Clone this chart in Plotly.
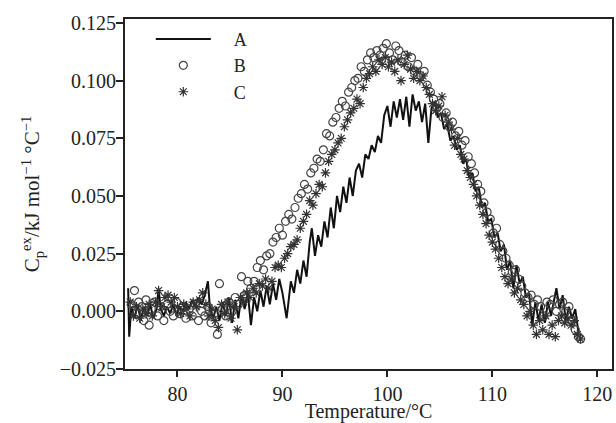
import plotly.graph_objects as go

# Curve A (line)
a_x = [75.3, 75.4, 75.6, 75.9, 76.2, 76.5, 76.8, 77.1, 77.4, 77.7, 78.0, 78.2, 78.4, 78.7, 79.0, 79.3, 79.6, 79.9,
       80.2, 80.5, 80.8, 81.1, 81.4, 81.7, 82.0, 82.3, 82.6, 82.9, 83.1, 83.4, 83.7, 84.0, 84.3, 84.6, 84.9, 85.2,
       85.5, 85.8, 86.1, 86.4, 86.7, 87.0, 87.3, 87.6, 87.9, 88.2, 88.5, 88.8, 89.1, 89.4, 89.7, 90.0, 90.4, 90.8,
       91.1, 91.4, 91.7, 92.0, 92.3, 92.6, 92.8, 93.1, 93.4, 93.7, 94.0, 94.3, 94.6, 94.9, 95.2, 95.5, 95.8, 96.1,
       96.4, 96.7, 97.0, 97.3, 97.6, 97.9, 98.2, 98.5, 98.8, 99.1, 99.4, 99.7, 100.0, 100.3, 100.6, 100.9, 101.2,
       101.5, 101.8, 102.1, 102.4, 102.7, 103.0, 103.3, 103.6, 103.9, 104.2, 104.5, 104.8, 105.1, 105.4, 105.7,
       106.0, 106.3, 106.6, 106.9, 107.2, 107.5, 107.8, 108.1, 108.4, 108.7, 109.0, 109.3, 109.6, 109.9, 110.2,
       110.5, 110.8, 111.1, 111.4, 111.7, 112.0, 112.3, 112.6, 112.9, 113.2, 113.5, 113.8, 114.1, 114.4, 114.7,
       115.0, 115.3, 115.6, 115.9, 116.1, 116.4, 116.7, 117.0, 117.3, 117.6, 117.9, 118.2]
a_y = [0.010, -0.011, 0.002, -0.003, 0.003, -0.004, 0.002, -0.002, 0.003, -0.003, 0.001, 0.010, 0.001, -0.002,
       0.002, -0.001, 0.003, -0.002, 0.002, 0.000, 0.004, 0.001, 0.005, 0.002, 0.006, 0.003, 0.007, 0.013, 0.001,
       -0.003, 0.002, -0.004, 0.004, -0.002, 0.006, -0.005, 0.005, -0.003, 0.007, 0.001, 0.008, -0.006, 0.006,
       0.000, 0.009, 0.002, 0.011, 0.003, 0.012, 0.005, 0.014, 0.008, -0.003, 0.013, 0.008, 0.018, 0.012, 0.022,
       0.015, 0.030, 0.036, 0.024, 0.033, 0.028, 0.039, 0.032, 0.045, 0.036, 0.050, 0.043, 0.054, 0.047, 0.058,
       0.050, 0.061, 0.064, 0.058, 0.068, 0.066, 0.072, 0.069, 0.076, 0.073, 0.085, 0.089, 0.080, 0.091, 0.084,
       0.092, 0.083, 0.093, 0.080, 0.094, 0.087, 0.091, 0.082, 0.090, 0.073, 0.088, 0.091, 0.084, 0.086, 0.079,
       0.081, 0.074, 0.076, 0.070, 0.072, 0.064, 0.066, 0.058, 0.060, 0.052, 0.054, 0.045, 0.047, 0.039, 0.040,
       0.032, 0.034, 0.026, 0.029, 0.018, 0.022, 0.010, 0.020, 0.012, 0.015, 0.006, 0.008, -0.006, 0.004, -0.004,
       0.003, -0.005, 0.004, -0.002, 0.006, 0.010, 0.001, 0.007, -0.004, 0.002, -0.003, 0.001, -0.009]

# Curve B (open circles)
b_x = [75.6, 75.9, 76.1, 76.3, 76.6, 76.8, 77.0, 77.3, 77.5, 77.8, 78.1, 78.4, 78.7, 79.0, 79.3, 79.6, 79.9, 80.2,
       80.5, 80.8, 81.1, 81.4, 81.7, 82.0, 82.3, 82.6, 82.9, 83.2, 83.5, 83.8, 84.0, 84.3, 84.6, 84.9, 85.2, 85.5,
       85.8, 86.1, 86.4, 86.7, 87.0, 87.3, 87.6, 87.9, 88.2, 88.5, 88.8, 89.1, 89.4, 89.7, 90.0, 90.3, 90.6, 90.9,
       91.2, 91.5, 91.8, 92.1, 92.4, 92.7, 93.0, 93.3, 93.6, 93.9, 94.2, 94.5, 94.8, 95.1, 95.4, 95.7, 96.0, 96.3,
       96.6, 96.9, 97.2, 97.5, 97.8, 98.1, 98.4, 98.7, 99.0, 99.3, 99.6, 99.9, 100.2, 100.5, 100.8, 101.1, 101.4,
       101.7, 102.0, 102.3, 102.6, 102.9, 103.2, 103.5, 103.8, 104.1, 104.4, 104.7, 105.0, 105.3, 105.6, 105.9,
       106.2, 106.5, 106.8, 107.1, 107.4, 107.7, 108.0, 108.3, 108.6, 108.9, 109.2, 109.5, 109.8, 110.1, 110.4,
       110.7, 111.0, 111.3, 111.6, 111.9, 112.2, 112.5, 112.8, 113.1, 113.4, 113.7, 114.0, 114.3, 114.6, 114.9,
       115.2, 115.5, 115.8, 116.1, 116.4, 116.7, 117.0, 117.3, 117.6, 117.9, 118.2, 118.4]
b_y = [0.003, 0.009, -0.001, 0.004, 0.002, -0.004, 0.005, -0.006, 0.001, 0.004, -0.002, 0.002, -0.004, 0.003,
       0.000, -0.002, 0.004, -0.001, 0.002, -0.003, 0.001, -0.002, 0.003, -0.004, 0.000, -0.002, 0.002, -0.005,
       -0.001, -0.010, 0.012, 0.001, -0.002, 0.004, 0.000, 0.006, 0.003, 0.015, 0.007, 0.013, 0.010, 0.013, 0.019,
       0.022, 0.018, 0.024, 0.025, 0.030, 0.032, 0.036, 0.033, 0.039, 0.042, 0.040, 0.045, 0.049, 0.051, 0.055,
       0.053, 0.060, 0.062, 0.066, 0.065, 0.070, 0.077, 0.076, 0.082, 0.084, 0.088, 0.091, 0.089, 0.095, 0.097,
       0.100, 0.101, 0.106, 0.104, 0.109, 0.112, 0.110, 0.113, 0.111, 0.114, 0.116, 0.112, 0.109, 0.115, 0.113,
       0.108, 0.111, 0.106, 0.110, 0.104, 0.107, 0.102, 0.104, 0.098, 0.095, 0.092, 0.088, 0.090, 0.084, 0.086,
       0.080, 0.082, 0.076, 0.078, 0.072, 0.074, 0.067, 0.064, 0.060, 0.055, 0.052, 0.047, 0.043, 0.040, 0.034,
       0.036, 0.029, 0.026, 0.023, 0.020, 0.017, 0.018, 0.014, 0.011, 0.008, 0.006, 0.007, 0.003, 0.005, 0.002,
       -0.002, 0.004, 0.003, 0.005, 0.000, 0.003, 0.004, 0.000, 0.002, -0.004, -0.008, -0.011, -0.012]

# Curve C (asterisks)
c_x = [75.5, 75.8, 76.1, 76.4, 76.7, 77.0, 77.3, 77.6, 77.9, 78.2, 78.5, 78.8, 79.1, 79.4, 79.7, 80.0, 80.3, 80.6,
       80.9, 81.2, 81.5, 81.8, 82.1, 82.4, 82.7, 83.0, 83.3, 83.6, 83.9, 84.2, 84.5, 84.8, 85.1, 85.4, 85.7, 86.0,
       86.3, 86.6, 86.9, 87.2, 87.5, 87.8, 88.1, 88.4, 88.7, 89.0, 89.3, 89.6, 89.9, 90.2, 90.5, 90.8, 91.1, 91.4,
       91.7, 92.0, 92.3, 92.6, 92.9, 93.2, 93.5, 93.8, 94.1, 94.4, 94.7, 95.0, 95.3, 95.6, 95.9, 96.2, 96.5, 96.8,
       97.1, 97.4, 97.7, 98.0, 98.3, 98.6, 98.9, 99.2, 99.5, 99.8, 100.1, 100.4, 100.7, 101.0, 101.3, 101.6, 101.9,
       102.2, 102.5, 102.8, 103.1, 103.4, 103.7, 104.0, 104.3, 104.6, 104.9, 105.2, 105.5, 105.8, 106.1, 106.4,
       106.7, 107.0, 107.3, 107.6, 107.9, 108.2, 108.5, 108.8, 109.1, 109.4, 109.7, 110.0, 110.3, 110.6, 110.9,
       111.2, 111.5, 111.8, 112.1, 112.4, 112.7, 113.0, 113.3, 113.6, 113.9, 114.2, 114.5, 114.8, 115.1, 115.4,
       115.7, 116.0, 116.3, 116.6, 116.9, 117.2, 117.5, 117.8, 118.1, 118.4]
c_y = [0.004, -0.002, 0.002, -0.003, 0.001, -0.001, 0.003, -0.002, 0.004, 0.009, 0.002, 0.006, 0.007, 0.004,
       0.006, 0.002, -0.001, 0.003, 0.001, -0.002, 0.004, 0.002, 0.005, 0.008, 0.003, -0.002, 0.001, -0.004,
       -0.007, 0.003, -0.001, 0.004, -0.003, 0.002, -0.008, 0.006, 0.004, 0.008, 0.006, 0.010, 0.008, 0.012,
       0.011, 0.014, 0.010, 0.013, 0.019, 0.020, 0.019, 0.023, 0.025, 0.028, 0.029, 0.031, 0.036, 0.039, 0.042,
       0.048, 0.046, 0.051, 0.055, 0.054, 0.060, 0.065, 0.068, 0.070, 0.073, 0.075, 0.080, 0.083, 0.086, 0.088,
       0.092, 0.090, 0.097, 0.101, 0.103, 0.106, 0.104, 0.109, 0.107, 0.110, 0.106, 0.108, 0.104, 0.109, 0.100,
       0.107, 0.111, 0.105, 0.101, 0.104, 0.100, 0.102, 0.097, 0.094, 0.090, 0.087, 0.089, 0.093, 0.085, 0.082,
       0.079, 0.072, 0.075, 0.068, 0.066, 0.061, 0.058, 0.055, 0.050, 0.046, 0.042, 0.038, 0.033, 0.030, 0.027,
       0.023, 0.019, 0.015, 0.012, 0.014, 0.008, 0.010, 0.005, 0.003, -0.002, 0.000, -0.006, -0.010, -0.004,
       -0.008, -0.002, -0.010, -0.006, -0.011, -0.004, -0.002, -0.005, -0.003, -0.006, -0.004, -0.010, -0.012]

x_ticks = [80, 90, 100, 110, 120]
y_ticks = [-0.025, 0.000, 0.025, 0.050, 0.075, 0.100, 0.125]
names = ["A", "B", "C"]

FONT = "Liberation Serif"
PAD = "\u2002\u2002"

fig = go.Figure()
fig.add_trace(go.Scatter(x=a_x, y=a_y, mode="lines", name=PAD + names[0],
                         line=dict(color="#111111", width=2)))
fig.add_trace(go.Scatter(x=b_x, y=b_y, mode="markers", name=PAD + names[1],
                         marker=dict(symbol="circle-open", size=8, color="#444444",
                                     line=dict(width=1.2, color="#444444"))))
fig.add_trace(go.Scatter(x=c_x, y=c_y, mode="markers", name=PAD + names[2],
                         marker=dict(symbol="asterisk-open", size=8, color="#333333",
                                     line=dict(width=1.2, color="#333333"))))

fig.update_layout(
    width=616, height=423,
    margin=dict(l=125, r=4, t=19, b=54),
    paper_bgcolor="white", plot_bgcolor="white",
    font=dict(family=FONT, size=20, color="#222222"),
    showlegend=True,
    legend=dict(x=0.053, y=0.995, xanchor="left", yanchor="top",
                bgcolor="rgba(0,0,0,0)", font=dict(family=FONT, size=18, color="#222222"),
                itemwidth=55, tracegroupgap=0),
    xaxis=dict(range=[75, 121.4], tickvals=x_ticks, ticks="outside", ticklen=6,
               tickwidth=1.5, tickcolor="#222222", showgrid=False, zeroline=False,
               showline=True, linecolor="#222222", linewidth=2, mirror=True,
               automargin=False,
               tickfont=dict(family=FONT, size=20),
               title=dict(text="Temperature/°C", font=dict(family=FONT, size=20), standoff=6)),
    yaxis=dict(range=[-0.025, 0.1267], tickvals=y_ticks, tickformat=".3f", ticks="outside",
               ticklen=7, tickwidth=1.5, tickcolor="#222222", showgrid=False, zeroline=False,
               showline=True, linecolor="#222222", linewidth=2, mirror=True,
               automargin=False, ticklabelstandoff=-4,
               tickfont=dict(family=FONT, size=20),
               title=dict(text="C<sub>p</sub><sup>ex</sup>/kJ mol<sup>−1</sup> °C<sup>−1</sup>",
                          font=dict(family=FONT, size=21), standoff=14)),
)

fig.write_html("out.html", config={"displayModeBar": False},
               post_script="document.body.style.margin='0';document.body.style.overflow='hidden';")
